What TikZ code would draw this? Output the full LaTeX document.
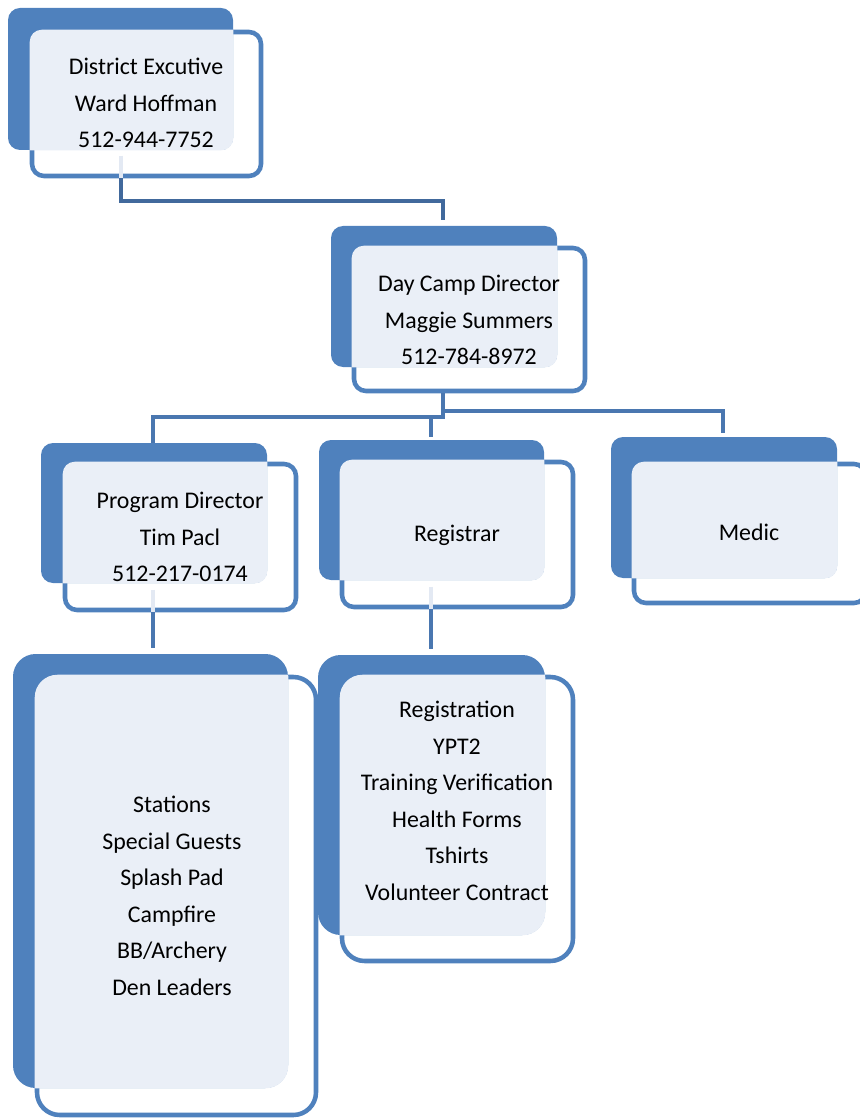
\documentclass[tikz,border=0pt]{standalone}
\usepackage{fontspec}
\setmainfont{Carlito}
\usetikzlibrary{fit}
\definecolor{boxBlue}{HTML}{4F81BD}
\definecolor{boxLight}{HTML}{EAEFF7}
\definecolor{linkDark}{HTML}{41699C}
\definecolor{linkMid}{HTML}{4A77B0}
\definecolor{linkPale}{HTML}{E3E9F3}
\tikzstyle{outerBox}=[draw = boxBlue, line width = 3.4pt, fill = white, rounded corners = 9pt, inner sep = 0pt]
\tikzstyle{backBox}=[fill = boxBlue, rounded corners = 9pt, inner sep = 0pt]
\tikzstyle{bigCorner}=[rounded corners = 17pt]
\tikzstyle{labelText}=[align = center, font = \fontsize{17.9}{27.4}\selectfont]
% light overlap of the back box and the outlined box
\newcommand{\overlapFill}[3][9pt]{%
  \begin{scope}
    \clip[rounded corners = #1] (#2.north west) rectangle (#2.south east);
    \fill[boxLight, rounded corners = #1] (#3.north west) rectangle (#3.south east);
  \end{scope}}

\begin{document}
\begin{tikzpicture}[x = 0.75pt, y = -0.75pt]
\tikzstyle{linkStyle} = [draw = linkMid, line width = 3.6pt]
\tikzstyle{linkTop} = [draw = linkDark, line width = 3.6pt]
\tikzstyle{linkInner} = [draw = linkPale, line width = 3.6pt]
\useasboundingbox (0,0) rectangle (859,1119);
% district executive
\node[outerBox, fit = {(32,32) (261,176)}] (o1) {};
\node[backBox, fit = {(8,8) (233,150)}] (b1) {};
\overlapFill{o1}{b1}
\node[labelText] (t1) at (146,103) {District Excutive\\Ward Hoffman\\512-944-7752};
% day camp director
\node[outerBox, fit = {(354,248) (585,391)}] (o2) {};
\node[backBox, fit = {(331,226) (557,367)}] (b2) {};
\overlapFill{o2}{b2}
\node[labelText] (t2) at (469,320) {Day Camp Director\\Maggie Summers\\512-784-8972};
% program director
\node[outerBox, fit = {(65,464) (296,610)}] (o3) {};
\node[backBox, fit = {(41,443) (267,583)}] (b3) {};
\overlapFill{o3}{b3}
\node[labelText] (t3) at (180,537) {Program Director\\Tim Pacl\\512-217-0174};
% registrar
\node[outerBox, fit = {(342,462) (573,607)}] (o4) {};
\node[backBox, fit = {(319,440) (544,580)}] (b4) {};
\overlapFill{o4}{b4}
\node[labelText] (t4) at (457,535) {Registrar};
% medic
\node[outerBox, fit = {(634,464) (866,603)}] (o5) {};
\node[backBox, fit = {(611,437) (837,578)}] (b5) {};
\overlapFill{o5}{b5}
\node[labelText] (t5) at (749,532) {Medic};
% stations
\node[outerBox, bigCorner, fit = {(37,677) (316,1115)}] (o6) {};
\node[backBox, bigCorner, fit = {(13,654) (288,1088)}] (b6) {};
\overlapFill[17pt]{o6}{b6}
\node[labelText] (t6) at (172,896) {Stations\\Special Guests\\Splash Pad\\Campfire\\BB/Archery\\Den Leaders};
% registration
\node[outerBox, bigCorner, fit = {(342,677) (573,961)}] (o7) {};
\node[backBox, bigCorner, fit = {(318,655) (545,935)}] (b7) {};
\overlapFill[17pt]{o7}{b7}
\node[labelText] (t7) at (457,801) {Registration\\YPT2\\Training Verification\\Health Forms\\Tshirts\\Volunteer Contract};
% connectors
\coordinate (j1) at (121,201);
\coordinate (j2) at (443,201);
\coordinate (j3) at (443,417);
\coordinate (j4) at (153,417);
\coordinate (j5) at (443,411);
\coordinate (j6) at (723,411);
\coordinate (j7) at (431,417);
\draw[linkInner, shorten < = 4pt] (b1.south -| j1) -- (o1.south -| j1);
\draw[linkTop, shorten > = 4pt] (o1.south -| j1) -- (j1) -- (j2) -- (b2.north -| j2);
\draw[linkStyle] (o2.south -| j3) -- (j3) -- (j4) -- (b3.north -| j4);
\draw[linkStyle, shorten > = 3pt] (j5) -- (j6) -- (b5.north -| j6);
\draw[linkStyle, shorten > = 2pt] (j7) -- (b4.north -| j7);
\draw[linkInner, shorten < = 5pt] (b3.south -| j4) -- (o3.south -| j4);
\draw[linkStyle, shorten > = 4pt] (o3.south -| j4) -- (b6.north -| j4);
\draw[linkInner, shorten < = 5pt] (b4.south -| j7) -- (o4.south -| j7);
\draw[linkStyle, shorten > = 4pt] (o4.south -| j7) -- (b7.north -| j7);
\end{tikzpicture}
\end{document}
